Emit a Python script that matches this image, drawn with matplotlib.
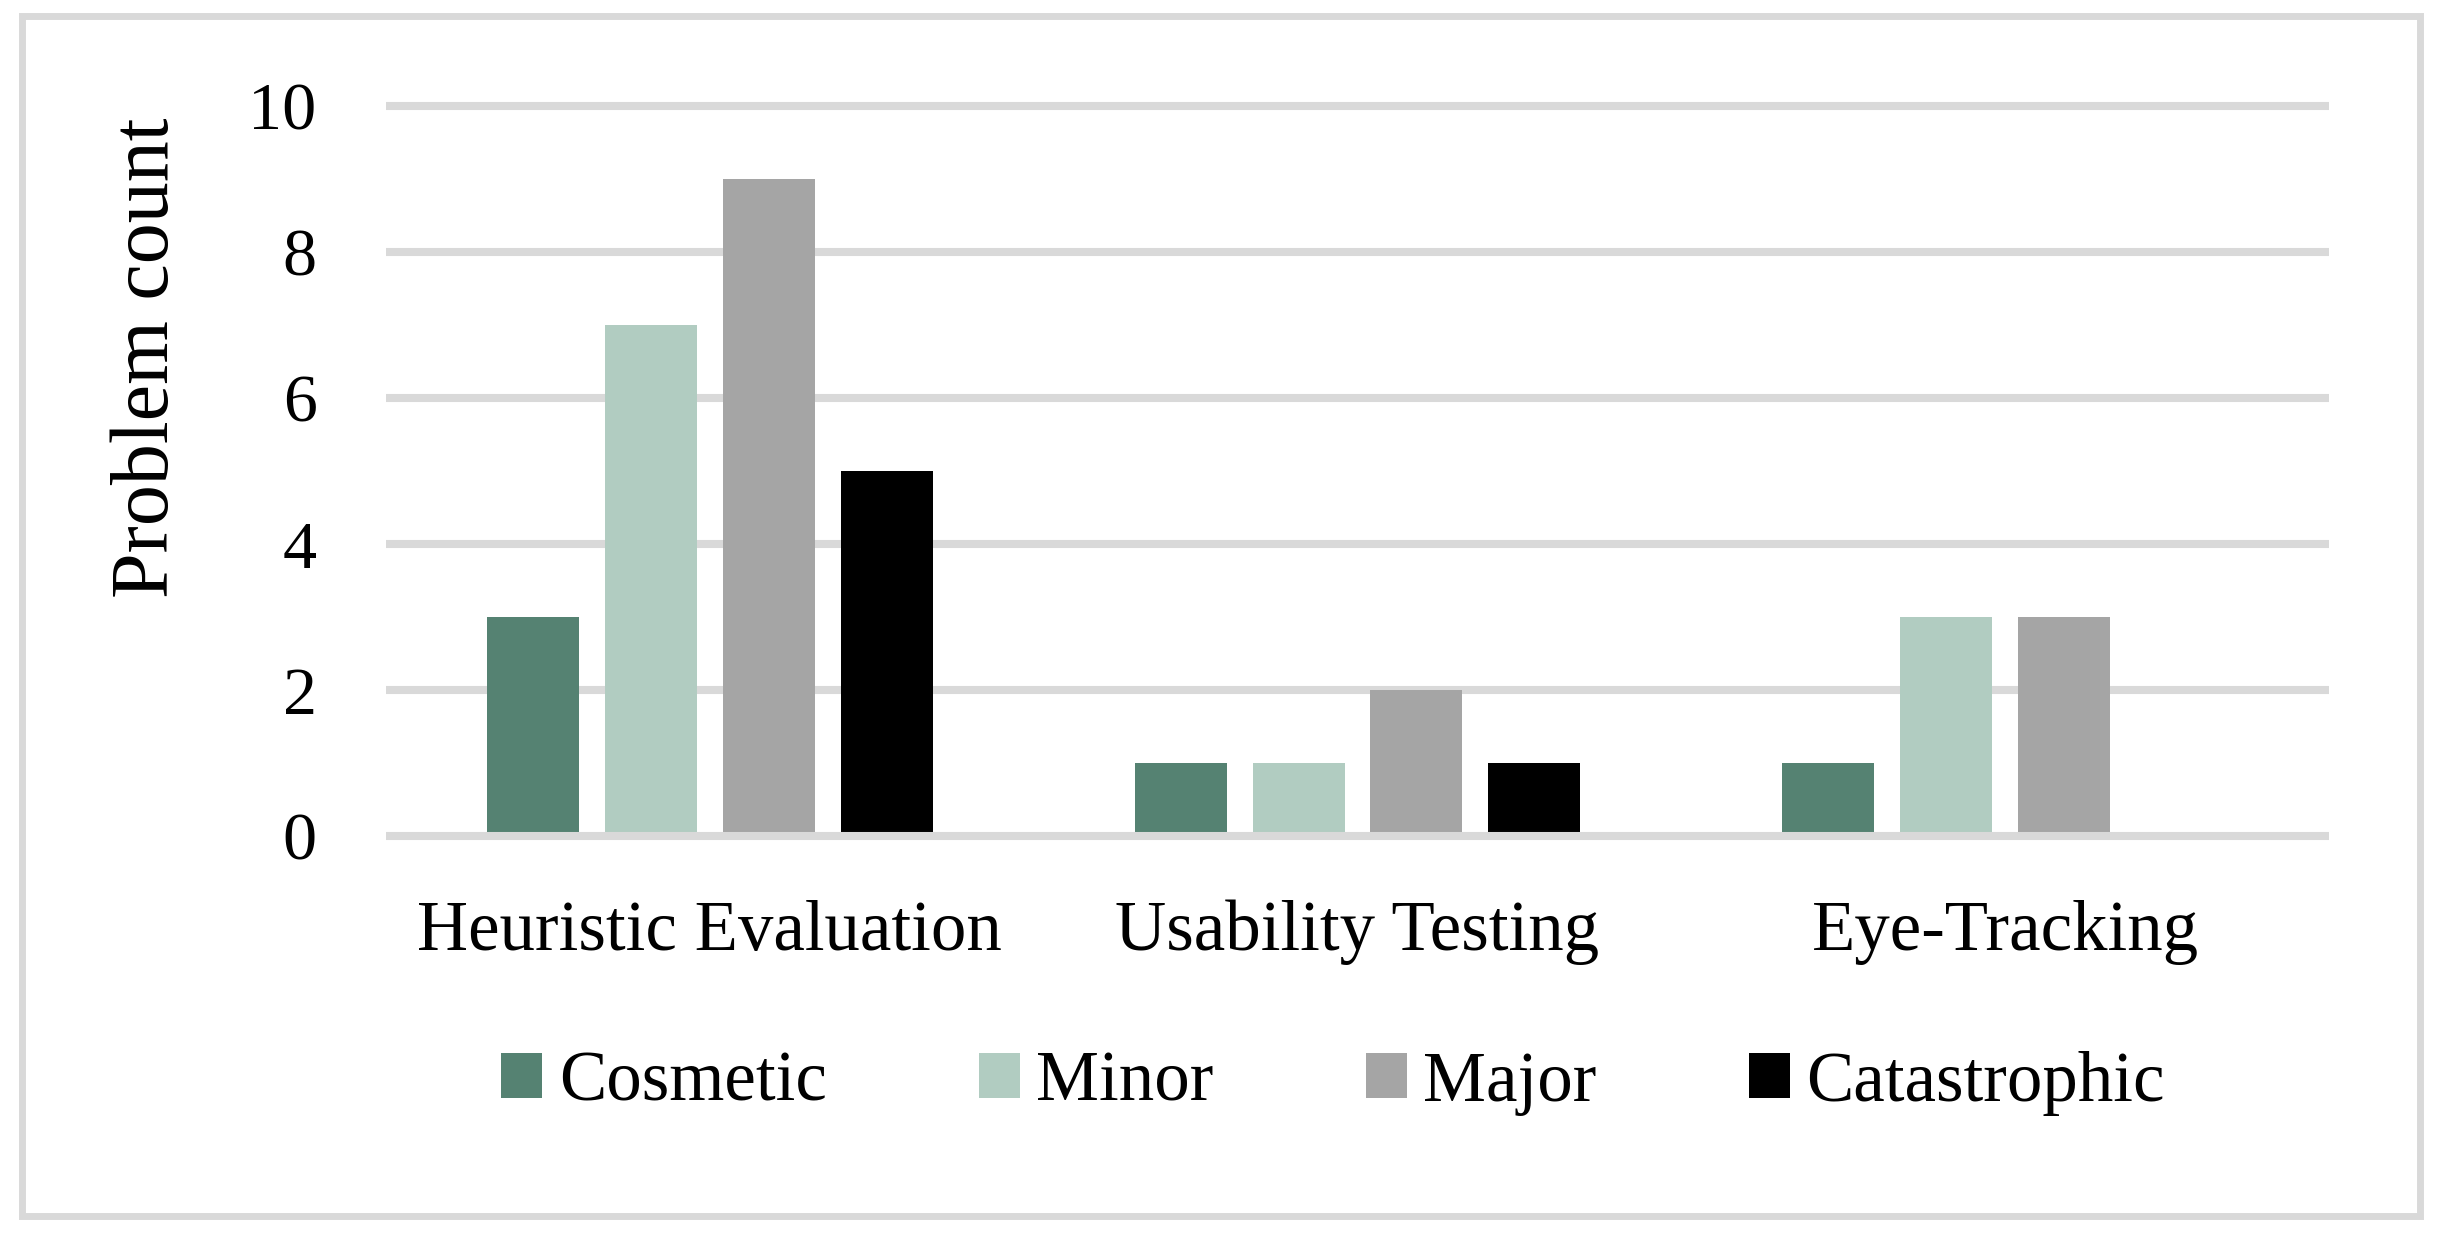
import numpy as np
import matplotlib.pyplot as plt
from matplotlib.patches import Rectangle

methods = ["Heuristic Evaluation", "Usability Testing", "Eye-Tracking"]
severities = ["Cosmetic", "Minor", "Major", "Catastrophic"]
cosmetic = [3, 1, 1]
minor = [7, 1, 3]
major = [9, 2, 3]
catastrophic = [5, 1, 0]
y_ticks = [0, 2, 4, 6, 8, 10]

colors = ["#558272", "#B1CCC1", "#A5A5A5", "#000000"]
grid_color = "#D9D9D9"

plt.rcParams["font.family"] = ["Liberation Serif", "DejaVu Serif"]

W, H = 2441, 1233
fig = plt.figure(figsize=(W / 100, H / 100), dpi=100)
ax = fig.add_axes([386 / W, 1 - 836 / H, (2329 - 386) / W, (836 - 106) / H])

x = np.arange(len(methods))
width = 0.142
offsets = [-0.273, -0.091, 0.091, 0.273]
series = [cosmetic, minor, major, catastrophic]
for vals, off, col, name in zip(series, offsets, colors, severities):
    ax.bar(x + off, vals, width, color=col, label=name, zorder=2)

# horizontal gridlines (the zero line sits on top of the bars)
for t in y_ticks:
    ax.axhline(t, color=grid_color, lw=5.8, clip_on=False,
               zorder=3 if t == 0 else 1, solid_capstyle="butt")

ax.set_xlim(-0.5, 2.5)
ax.set_ylim(0, 10)
ax.set_yticks(y_ticks)
ax.set_xticks(x)
ax.set_xticklabels(methods, fontsize=51)
ax.tick_params(axis="y", length=0, pad=50, labelsize=49)
ax.tick_params(axis="x", length=0, pad=46)
for s in ax.spines.values():
    s.set_visible(False)

fig.text(148 / W, 1 - 358 / H, "Problem count", rotation=90,
         ha="center", va="center", fontsize=59)

fig.legend(loc="center", bbox_to_anchor=(1333 / W, 1 - 1083 / H),
           ncol=4, frameon=False, fontsize=51, handlelength=0.58,
           handleheight=0.58, handletextpad=0.23, columnspacing=2.15,
           borderpad=0, borderaxespad=0)

# chart-area border
fig.patches.append(Rectangle((22 / W, 1 - 1216 / H), (2420 - 22) / W,
                             (1216 - 16) / H, transform=fig.transFigure,
                             fill=False, edgecolor=grid_color, lw=5))

fig.savefig("out.png", dpi=100, facecolor="white")
